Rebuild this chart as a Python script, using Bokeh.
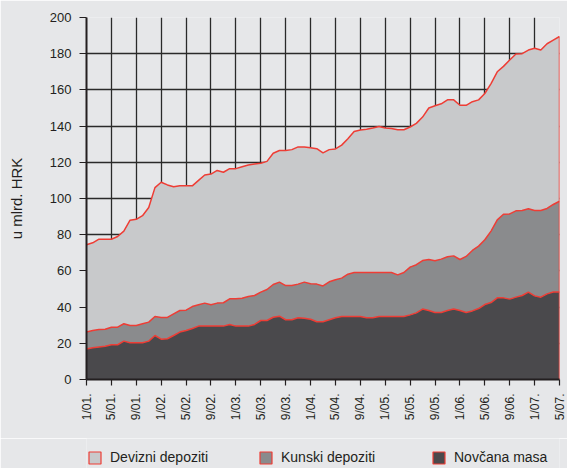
import numpy as np
from bokeh.plotting import figure
from bokeh.layouts import column
from bokeh.models import FixedTicker, Legend, LegendItem, Range1d, ColumnDataSource
from bokeh.embed import file_html
from bokeh.resources import INLINE

# Monthly data, 1/2001 .. 5/2007 (mlrd. HRK)
tick_labels = ["1/01.", "5/01.", "9/01.", "1/02.", "5/02.", "9/02.", "1/03.",
               "5/03.", "9/03.", "1/04.", "5/04.", "9/04.", "1/05.", "5/05.",
               "9/05.", "1/06.", "5/06.", "9/06.", "1/07.", "5/07."]

novcana_masa = [16.9, 17.5, 18.0, 18.4, 19.2, 19.2, 21.2, 20.3, 20.3, 20.3, 21.2, 24.3,
                22.3, 22.5, 24.3, 26.2, 27.1, 28.2, 29.5, 29.5, 29.5, 29.5, 29.5, 30.4,
                29.5, 29.5, 29.5, 30.4, 32.6, 32.6, 34.4, 35.0, 33.0, 33.0, 34.1, 33.9,
                33.3, 31.9, 31.9, 33.0, 34.1, 34.8, 34.8, 34.8, 34.8, 34.1, 34.1, 34.8,
                34.8, 34.8, 34.8, 34.8, 35.7, 36.8, 38.9, 38.1, 37.0, 37.0, 38.1, 39.0,
                38.1, 37.0, 37.9, 39.2, 41.4, 42.5, 45.1, 45.1, 44.4, 45.5, 46.4, 48.3,
                46.2, 45.5, 47.3, 48.3, 48.3]

kunski_depoziti = [9.3, 9.6, 9.6, 9.4, 9.7, 9.7, 9.6, 9.5, 9.5, 10.5, 10.5, 10.5,
                   12.0, 11.8, 12.0, 11.9, 11.2, 12.1, 11.8, 12.7, 11.8, 12.7, 12.9, 14.2,
                   15.1, 15.4, 16.4, 16.0, 15.7, 17.1, 18.1, 18.8, 18.9, 18.9, 18.6, 19.9,
                   19.6, 20.8, 19.8, 21.0, 21.0, 21.2, 23.4, 24.3, 24.3, 25.0, 25.0, 24.3,
                   24.3, 24.3, 23.0, 24.3, 26.4, 26.6, 26.8, 28.2, 28.6, 29.5, 29.7, 29.3,
                   28.2, 31.0, 33.4, 34.5, 35.8, 39.5, 43.1, 46.2, 47.1, 47.7, 47.0, 46.0,
                   47.2, 47.9, 47.2, 48.4, 50.2]

devizni_depoziti = [48.3, 48.4, 49.9, 49.7, 48.6, 50.1, 51.2, 58.2, 58.7, 59.7, 63.3, 71.2,
                    74.7, 73.2, 70.2, 68.9, 68.7, 66.7, 68.7, 70.8, 72.2, 73.3, 72.1, 71.9,
                    71.9, 72.6, 72.6, 72.6, 71.2, 70.8, 72.5, 72.7, 74.6, 75.1, 75.8, 74.7,
                    75.1, 74.8, 73.5, 73.0, 72.3, 73.5, 74.8, 77.9, 78.7, 79.2, 79.9, 80.7,
                    79.9, 79.6, 80.2, 78.9, 77.4, 78.1, 79.3, 83.7, 85.6, 85.8, 86.7, 86.2,
                    85.2, 83.5, 82.2, 80.8, 80.8, 81.5, 81.8, 81.7, 85.0, 86.6, 86.6, 87.7,
                    89.6, 88.6, 91.0, 90.8, 91.0]

series_names = ["Devizni depoziti", "Kunski depoziti", "Novčana masa"]

BG = "#e6e7e9"
C_DEV = "#c8c9cb"
C_KUN = "#8a8b8d"
C_NOV = "#4a494c"
RED = "#ee3d35"
INK = "#231f20"
FONT = "Liberation Sans"

x = np.arange(len(novcana_masa))
n = np.array(novcana_masa)
m = n + np.array(kunski_depoziti)
t = m + np.array(devizni_depoziti)
src = ColumnDataSource(dict(x=x, zero=np.zeros(len(x)), n=n, m=m, t=t))

fig = figure(width=567, height=438, output_backend="svg", toolbar_location=None,
             x_range=Range1d(0, len(x) - 1), y_range=Range1d(0, 200))
fig.min_border_left = 86
fig.min_border_right = 8
fig.min_border_top = 17
fig.min_border_bottom = 59
fig.background_fill_color = BG
fig.border_fill_color = BG
fig.outline_line_color = None

fig.varea(x="x", y1="m", y2="t", source=src, fill_color=C_DEV)
fig.varea(x="x", y1="n", y2="m", source=src, fill_color=C_KUN)
fig.varea(x="x", y1="zero", y2="n", source=src, fill_color=C_NOV)
for col in ["n", "m", "t"]:
    fig.line(x="x", y=col, source=src, line_color=RED, line_width=1.5)
fig.segment(x0=[x[-1]], y0=[0], x1=[x[-1]], y1=[t[-1]], line_color=RED, line_width=1.5)

# axes
fig.xaxis.ticker = FixedTicker(ticks=list(range(0, len(x), 4)))
fig.xaxis.major_label_overrides = {i * 4: lab for i, lab in enumerate(tick_labels)}
fig.xaxis.major_label_orientation = np.pi / 2
fig.yaxis.ticker = FixedTicker(ticks=list(range(0, 201, 20)))
for ax in (fig.xaxis, fig.yaxis):
    ax.axis_line_color = INK
    ax.axis_line_width = 2
    ax.major_tick_line_color = INK
    ax.major_tick_line_width = 1.2
    ax.major_tick_in = 0
    ax.minor_tick_line_color = None
    ax.major_label_text_font = FONT
    ax.major_label_text_color = INK
fig.xaxis.major_tick_out = 6
fig.xaxis.major_label_standoff = 8
fig.xaxis.major_label_text_font_size = "12px"
fig.yaxis.major_tick_out = 7
fig.yaxis.major_label_standoff = 8
fig.yaxis.major_label_text_font_size = "13px"
fig.yaxis.axis_label = "u mlrd. HRK"
fig.yaxis.axis_label_text_font = FONT
fig.yaxis.axis_label_text_font_size = "15px"
fig.yaxis.axis_label_text_font_style = "normal"
fig.yaxis.axis_label_text_color = INK
fig.yaxis.axis_label_standoff = 22

fig.xgrid.ticker = FixedTicker(ticks=list(range(0, len(x), 4)))
fig.ygrid.ticker = FixedTicker(ticks=list(range(0, 201, 20)))
for g in (fig.xgrid, fig.ygrid):
    g.grid_line_color = "#2a2a2a"
    g.grid_line_width = 1.3

# legend strip below the chart (its frame is aligned with the chart's frame)
leg = figure(width=567, height=30, output_backend="svg", toolbar_location=None,
             x_axis_type=None, y_axis_type=None, x_range=Range1d(0, 1), y_range=Range1d(0, 1),
             min_border_left=86, min_border_right=8, min_border_top=0, min_border_bottom=0)
leg.background_fill_color = BG
leg.border_fill_color = BG
leg.outline_line_color = None
leg.grid.visible = False

fills = [C_DEV, C_KUN, C_NOV]
offsets = [1, 172, 345]
for name, fc, off in zip(series_names, fills, offsets):
    dummy = leg.quad(left=[np.nan], right=[np.nan], top=[np.nan], bottom=[np.nan],
                     fill_color=fc, line_color=RED, line_width=1.2)
    lg = Legend(items=[LegendItem(label=name, renderers=[dummy])],
                location=(off, 3), orientation="horizontal",
                padding=0, margin=0, spacing=0, label_standoff=8,
                glyph_width=15, glyph_height=15, label_height=15,
                label_text_font=FONT, label_text_font_size="14px",
                label_text_color=INK, background_fill_alpha=0,
                border_line_alpha=0)
    leg.add_layout(lg, "center")

p = column(fig, leg, spacing=0)
open("out.html", "w").write(file_html(p, INLINE))
